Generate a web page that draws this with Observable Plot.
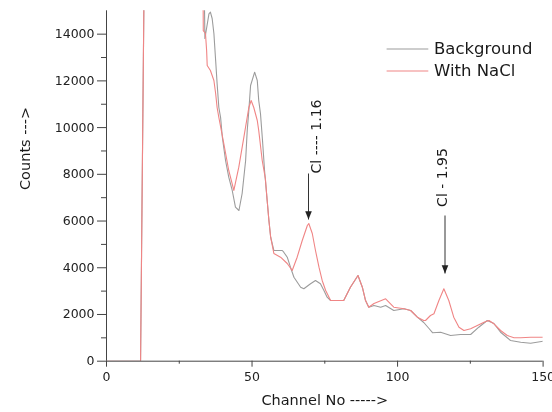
<!DOCTYPE html>
<html>
<head>
<meta charset="utf-8">
<script src="https://cdn.jsdelivr.net/npm/d3@7"></script>
<script src="https://cdn.jsdelivr.net/npm/@observablehq/plot@0.6"></script>
<style>
  html, body { margin: 0; padding: 0; background: #fff; }
  #chart { width: 552px; height: 412px; }
</style>
</head>
<body>
<div id="chart"></div>
<script>
// ---- Data ----
const bgChannel = [0, 11.7, 13.2, 33.2, 33.8, 35.2, 35.7, 36.3, 36.9, 37.5, 38.0, 38.6, 39.2, 39.8, 40.9, 42.0, 43.2, 44.3, 45.5, 46.6, 47.8, 48.35, 48.9, 49.5, 50.9, 51.8, 52.3, 52.9, 53.6, 54.3, 55.2, 55.8, 56.4, 57.5, 60.4, 60.9, 62.1, 63.2, 64.4, 66.7, 67.8, 70.1, 71.8, 73.5, 74.7, 75.8, 77.0, 80.4, 81.5, 83.8, 86.4, 87.9, 89.0, 90.1, 91.9, 94.2, 95.9, 98.7, 102.2, 104.5, 106.8, 109.0, 110.8, 112.0, 114.8, 118.2, 121.6, 125.1, 127.9, 130.8, 133.1, 135.4, 138.8, 142.3, 145.7, 150];
const bgCounts  = [0, 0, 20000, 20000, 13814, 14871, 14940, 14670, 14028, 12872, 11888, 10860, 10432, 9589, 8591, 7877, 7308, 6592, 6451, 7179, 8591, 9876, 10732, 11802, 12372, 12017, 11160, 10604, 9448, 8164, 6879, 6023, 5308, 4739, 4739, 4666, 4452, 4024, 3596, 3168, 3099, 3313, 3455, 3313, 3026, 2740, 2598, 2598, 2598, 3168, 3669, 3168, 2598, 2312, 2384, 2312, 2384, 2170, 2243, 2170, 1884, 1657, 1400, 1220, 1241, 1100, 1143, 1143, 1455, 1742, 1614, 1241, 886, 813, 771, 856];

const naclChannel = [0, 11.7, 13.2, 33.0, 33.25, 34.0, 34.4, 34.6, 35.7, 36.9, 37.5, 38.0, 38.6, 40.3, 42.0, 43.75, 45.45, 47.2, 48.9, 49.7, 50.6, 51.8, 52.3, 53.5, 54.6, 55.2, 55.8, 56.4, 57.5, 59.8, 62.1, 63.8, 65.5, 67.25, 69.0, 69.5, 70.7, 71.8, 73.0, 74.1, 75.3, 77.0, 80.4, 81.5, 83.8, 86.4, 87.9, 89.0, 90.1, 91.9, 95.9, 98.7, 102.2, 104.5, 106.8, 109.0, 109.6, 111.3, 112.5, 114.2, 115.9, 117.6, 119.3, 121.1, 122.8, 125.1, 127.4, 129.7, 131.4, 133.1, 135.4, 137.7, 140.0, 142.3, 145.7, 150];
const naclCounts  = [0, 0, 20000, 20000, 14150, 14028, 13300, 12658, 12444, 12016, 11460, 10860, 10432, 9320, 8164, 7308, 8305, 9589, 10860, 11160, 10860, 10304, 9876, 8592, 7800, 6879, 6023, 5308, 4610, 4452, 4182, 3883, 4452, 5167, 5809, 5895, 5467, 4739, 4024, 3455, 3026, 2598, 2598, 2598, 3168, 3669, 3168, 2598, 2312, 2470, 2671, 2312, 2243, 2170, 1884, 1742, 1742, 1956, 2029, 2598, 3099, 2598, 1884, 1455, 1314, 1387, 1528, 1670, 1742, 1601, 1314, 1100, 1002, 1002, 1027, 1027];

const seriesNames = ["Background", "With NaCl"];
const seriesColors = ["#9c9c9c", "#f08585"];

const xMajorTicks = [0, 50, 100, 150];
const xMinorTicks = [25, 75, 125];
const yMajorTicks = [0, 2000, 4000, 6000, 8000, 10000, 12000, 14000];
const yMinorTicks = [1000, 3000, 5000, 7000, 9000, 11000, 13000];

const xTitle = "Channel No ----->";
const yTitle = "Counts --->";

const annoLabels  = ["Cl ---- 1.16", "Cl - 1.95"];
const annoChannel = [72.3, 115.3];
const annoCounts  = [9619, 7864];
const arrowChannel = [69.4, 116.3];
const arrowFrom    = [8035, 6237];
const arrowTo      = [6066, 3754];

// ---- Build tables ----
const bg = bgChannel.map((c, i) => ({channel: c, counts: bgCounts[i]}));
const nacl = naclChannel.map((c, i) => ({channel: c, counts: naclCounts[i]}));
const annos = annoLabels.map((t, i) => ({label: t, x: annoChannel[i], y: annoCounts[i]}));
const arrows = arrowChannel.map((c, i) => ({x: c, y1: arrowFrom[i], y2: arrowTo[i]}));

// filled arrowhead pointing down, tip at the anchor
const arrowHead = {
  draw(ctx) {
    ctx.moveTo(0, 0);
    ctx.lineTo(-3.3, -8.3);
    ctx.lineTo(3.3, -8.3);
    ctx.closePath();
  }
};

const W = 552, H = 412;
const mL = 106, mR = 9.4, mT = 10.3, mB = 51.3;

const chart = Plot.plot({
  width: W,
  height: H,
  marginLeft: mL,
  marginRight: mR,
  marginTop: mT,
  marginBottom: mB,
  x: {domain: [0, 150]},
  y: {domain: [0, 15000]},
  style: {fontFamily: "'DejaVu Sans', sans-serif", fontSize: "12.5px", color: "#222", background: "#fff", overflow: "visible"},
  marks: [
    Plot.axisY(yMajorTicks, {tickSize: 9, tickPadding: 3, tickFormat: "d", label: null, stroke: "#444"}),
    Plot.axisY(yMinorTicks, {tickSize: 5, tickFormat: () => "", label: null, stroke: "#444"}),
    Plot.axisX(xMajorTicks, {tickSize: 6, tickPadding: 5, tickFormat: "d", label: null, stroke: "#444"}),
    Plot.axisX(xMinorTicks, {tickSize: 3, tickFormat: () => "", label: null, stroke: "#444"}),
    Plot.line(bg, {x: "channel", y: "counts", stroke: seriesColors[0], strokeWidth: 1.1, clip: true}),
    Plot.line(nacl, {x: "channel", y: "counts", stroke: seriesColors[1], strokeWidth: 1.1, clip: true, mixBlendMode: "multiply"}),
    Plot.ruleX([0], {stroke: "#444"}),
    Plot.ruleY([0], {stroke: "#444"}),
    Plot.link(arrows, {x1: "x", x2: "x", y1: "y1", y2: "y2", stroke: "#333", strokeWidth: 1}),
    Plot.dot(arrows, {x: "x", y: "y2", symbol: arrowHead, fill: "#222", stroke: "none"}),
    Plot.text(annos, {x: "x", y: "y", text: "label", rotate: -90, fontSize: 14, fill: "#1a1a1a"}),
    Plot.text([xTitle], {frameAnchor: "bottom", dy: 43.5, fontSize: 14.5, fill: "#1a1a1a"}),
    Plot.text([yTitle], {frameAnchor: "left", dx: -81, dy: 4, rotate: -90, fontSize: 14.5, fill: "#1a1a1a"})
  ]
});

// Legend inside the plot area, top-right
const svg = d3.select(chart);
const lg = svg.append("g")
  .attr("font-family", "'DejaVu Sans', sans-serif")
  .attr("font-size", 16.5)
  .attr("text-anchor", "start")
  .attr("fill", "#1a1a1a");
const right = W - mR;
seriesNames.forEach((name, i) => {
  const yy = mT + 38.7 + i * 22;
  lg.append("line")
    .attr("x1", right - 156).attr("x2", right - 114.3)
    .attr("y1", yy).attr("y2", yy)
    .attr("stroke", seriesColors[i]).attr("stroke-width", 1.1);
  lg.append("text")
    .attr("x", right - 108.6).attr("y", yy)
    .attr("dy", "0.33em")
    .attr("text-anchor", "start")
    .text(name);
});

document.getElementById("chart").appendChild(chart);
</script>
</body>
</html>
